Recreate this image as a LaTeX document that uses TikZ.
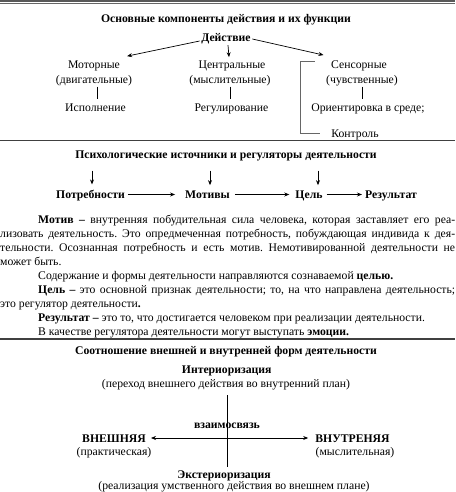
\documentclass[tikz,border=0pt]{standalone}
\usepackage{fontspec}
\setmainfont{Liberation Serif}
\usetikzlibrary{arrows.meta,calc}
\begin{document}
\frenchspacing
\begin{tikzpicture}[x=1pt,y=-1pt,
  every node/.style={inner sep=0pt, anchor=base, font=\fontsize{11.7}{14}\selectfont},
  bl/.style={font=\fontsize{11.7}{14}\selectfont\bfseries},
  arr/.style={-{Stealth[length=5pt,width=4pt]}, line width=0.7pt},
  darr/.style={{Stealth[length=5pt,width=4pt]}-{Stealth[length=5pt,width=4pt]}, line width=0.7pt},
  ln/.style={line width=0.7pt},
  brk/.style={line width=0.8pt, draw=black!60},
  sep/.style={line width=1.2pt, draw=black!75}]
\useasboundingbox (0,0) rectangle (455,492);
% top double rule
\fill[black!65] (0,0) rectangle (455,2.3);
\draw[line width=1pt, black!60] (0,3.6) -- (455,3.6);

% ---------- section 1
\node[bl] (t1) at (226,23) {Основные компоненты действия и их функции};
\node[bl] (deist) at (226,42) {Действие};
\node (mot1) at (94,69) {Моторные};
\node (mot2) at (94,84) {(двигательные)};
\node (isp) at (95.5,111) {Исполнение};
\node (cen1) at (232,69) {Центральные};
\node (cen2) at (230,84) {(мыслительные)};
\node (reg) at (231.5,111) {Регулирование};
\node (sen1) at (359,69) {Сенсорные};
\node (sen2) at (362,84) {(чувственные)};
\node (ori) at (368,111) {Ориентировка в среде;};
\node (kon) at (355,137) {Контроль};

\draw[arr] ($(deist.base west)+(-1.5,-1)$) -- ($(mot1.north east)+(7,-5)$);
\draw[arr] ($(deist.south)+(2,0.5)$) -- ($(cen1.north)+(-3,-4)$);
\draw[arr] ($(deist.base east)+(1.5,-3)$) -- ($(sen1.north west)+(-7.5,-6)$);
\draw[ln] ($(mot2.south)+(3,0)$) -- ($(isp.north -| mot2.south)+(3,-4)$);
\draw[ln] ($(cen2.south)+(0,0)$) -- ($(reg.north -| cen2.south)+(0,-4)$);
\draw[ln] ($(sen2.south)+(0,0)$) -- ($(ori.north -| sen2.south)+(0,-4)$);
\draw[brk] ($(sen1.west)+(-16.5,-5)$) -- ++(-14,0) |- ($(kon.west)+(-11.5,-1)$);

\draw[sep] (0,140.5) -- (455,140.5);

% ---------- section 2
\node[bl] (t2) at (226,158) {Психологические источники и регуляторы деятельности};
\node[bl] (potr) at (90.5,198) {Потребности};
\node[bl] (motiv) at (207.5,198) {Мотивы};
\node[bl] (cel) at (309,198) {Цель};
\node[bl] (res) at (391,198) {Результат};
\draw[arr] ($(t2.south -| potr.north)+(1.5,10)$) -- ($(potr.north)+(1.5,-5)$);
\draw[arr] ($(t2.south -| motiv.north)+(2.5,10)$) -- ($(motiv.north)+(2.5,-5)$);
\draw[arr] ($(t2.south -| cel.north)+(9,10)$) -- ($(cel.north)+(9,-5)$);
\draw[arr] ($(potr.base east)+(3,-3.5)$) -- ($(motiv.base west)+(-10,-3.5)$);
\draw[arr] ($(motiv.base east)+(5,-3.5)$) -- ($(cel.base west)+(-6,-3.5)$);
\draw[arr] ($(cel.base east)+(4,-3.5)$) -- ($(res.base west)+(-3,-3.5)$);

% ---------- section 3
\node[anchor=base west] (txt) at (0,223.5) {\begin{minipage}[t]{455pt}\fontsize{11.7}{14}\selectfont\frenchspacing
\setlength{\parindent}{38pt}\setlength{\parskip}{0pt}\hyphenpenalty=10000\exhyphenpenalty=10000
\textbf{Мотив –} внутренняя побудительная сила человека, которая заставляет его реа-\linebreak лизовать деятельность. Это опредмеченная потребность, побуждающая индивида к дея-\linebreak тельности. Осознанная потребность и есть мотив. Немотивированной деятельности не\linebreak может быть.\par
Содержание и формы деятельности направляются сознаваемой \textbf{целью.}\par
\textbf{Цель –} это основной признак деятельности; то, на что направлена деятельность;\linebreak это регулятор деятельности\textbf{.}\par
\textbf{Результат –} это то, что достигается человеком при реализации деятельности.\par
В качестве регулятора деятельности могут выступать \textbf{эмоции.}\par
\end{minipage}};

\draw[sep] (0,339) -- (455,339);

% ---------- section 4
\node[bl] (t3) at (226,354) {Соотношение внешней и внутренней форм деятельности};
\node[bl] (inter) at (226.7,373) {Интериоризация};
\node (perehod) at (226,387) {(переход внешнего действия во внутренний план)};
\node[bl] (vzaim) at (227,428) {взаимосвязь};
\node[bl] (vnesh) at (114,442) {ВНЕШНЯЯ};
\node (prakt) at (114,455) {(практическая)};
\node[bl] (vnutr) at (352.5,442) {ВНУТРЕНЯЯ};
\node (mysl) at (355,455) {(мыслительная)};
\node[bl] (ekster) at (224,478.5) {Экстериоризация};
\node (realiz) at (234,489.5) {(реализация умственного действия во внешнем плане)};
\draw[ln] ($(perehod.south)+(1,5.5)$) -- ($(ekster.north -| perehod.south)+(1,-4)$);
\draw[darr] ($(vnesh.base east)+(5,-4)$) -- ($(vnutr.base west)+(-7,-4)$);
\end{tikzpicture}
\end{document}
